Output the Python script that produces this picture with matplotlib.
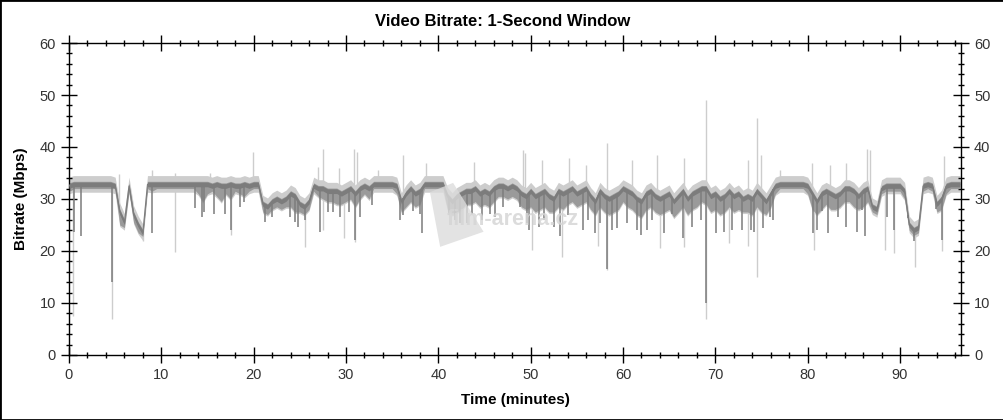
import numpy as np
import matplotlib
matplotlib.use('Agg')
import matplotlib.pyplot as plt
from matplotlib.patches import Rectangle, Polygon
from matplotlib.ticker import MultipleLocator

plt.rcParams['font.family'] = ['Liberation Sans', 'DejaVu Sans']

# Nivel medio del bitrate, cada 0.5 minutos (0 .. 96.5)
level_t = np.arange(0, 97, 0.5)
level = [
    32.5, 32.8, 32.8, 32.8, 32.8, 32.8, 32.8, 32.8, 32.8, 32.8,
    32.5, 27.5, 25.5, 32.5, 27.0, 25.0, 23.5, 32.8, 32.8, 32.8,
    32.8, 32.8, 32.8, 32.8, 32.8, 32.8, 32.8, 32.8, 32.8, 32.8,
    32.8, 32.5, 32.8, 32.5, 32.5, 32.8, 32.5, 32.5, 32.8, 32.5,
    32.8, 32.8, 29.0, 28.5, 29.5, 30.0, 29.5, 30.0, 31.0, 30.5,
    29.0, 28.5, 29.5, 32.5, 32.0, 32.0, 31.5, 31.5, 31.5, 31.0,
    31.5, 32.0, 31.0, 32.0, 32.5, 32.0, 32.8, 32.8, 32.8, 32.8,
    32.8, 32.5, 29.5, 31.0, 32.0, 31.0, 31.5, 32.8, 32.8, 32.8,
    32.8, 32.8, 30.5, 29.5, 30.5, 31.0, 31.5, 31.5, 32.0, 31.0,
    31.5, 31.0, 32.0, 32.5, 32.5, 32.0, 32.5, 32.0, 31.0, 30.5,
    31.5, 30.5, 31.0, 31.5, 30.5, 30.0, 31.5, 31.0, 31.5, 32.0,
    31.0, 31.5, 32.0, 30.5, 29.5, 31.5, 30.5, 30.0, 30.5, 31.0,
    32.0, 31.5, 31.0, 30.0, 29.5, 31.0, 31.5, 30.5, 30.0, 30.5,
    31.0, 29.5, 30.5, 31.5, 30.0, 31.0, 31.5, 32.0, 32.0, 30.5,
    31.0, 30.0, 30.5, 31.5, 30.5, 31.0, 30.0, 30.5, 30.0, 31.5,
    30.5, 29.5, 31.0, 32.5, 32.8, 32.8, 32.8, 32.8, 32.8, 32.8,
    32.5, 31.0, 29.5, 31.0, 31.5, 31.0, 30.5, 31.0, 32.0, 32.0,
    31.5, 30.5, 31.5, 32.0, 28.5, 28.0, 32.0, 32.5, 32.5, 32.5,
    32.5, 31.5, 25.0, 24.0, 24.5, 32.5, 32.8, 32.5, 29.0, 30.0,
    32.5, 32.8, 32.8, 32.8,
]

# Borde inferior de la masa oscura, cada 0.5 minutos
lower = [
    31.5, 32.0, 32.0, 32.0, 32.0, 32.0, 32.0, 32.0, 32.0, 32.0,
    32.0, 25.0, 24.5, 31.5, 25.5, 23.5, 22.8, 32.0, 31.5, 32.0,
    32.0, 32.0, 32.0, 32.0, 32.0, 32.0, 32.0, 32.0, 31.0, 29.5,
    31.0, 31.5, 30.5, 29.5, 31.0, 30.0, 31.5, 31.0, 30.5, 31.5,
    32.0, 32.0, 27.5, 27.0, 28.0, 28.5, 28.0, 28.5, 28.5, 27.5,
    27.5, 27.0, 28.0, 31.5, 30.5, 30.0, 29.5, 29.5, 29.0, 29.0,
    29.5, 30.0, 28.5, 30.0, 31.0, 30.0, 32.0, 32.0, 32.0, 32.0,
    32.0, 31.0, 27.5, 28.5, 29.5, 28.5, 29.0, 32.0, 32.0, 32.0,
    32.0, 32.0, 28.0, 27.0, 27.5, 28.0, 29.0, 29.0, 29.5, 28.5,
    29.0, 28.5, 29.5, 30.5, 30.5, 30.0, 30.5, 30.0, 28.5, 28.0,
    28.5, 27.5, 28.0, 28.5, 27.5, 27.5, 28.5, 28.0, 29.0, 29.5,
    28.5, 29.0, 29.5, 28.0, 27.0, 28.5, 27.5, 27.0, 27.5, 28.0,
    29.5, 28.5, 28.0, 27.0, 26.5, 28.0, 28.5, 27.5, 27.0, 27.5,
    28.0, 26.5, 27.5, 28.5, 27.0, 28.0, 28.5, 29.5, 29.0, 27.5,
    28.0, 27.0, 27.5, 28.5, 27.5, 28.0, 27.5, 27.5, 27.0, 28.5,
    27.5, 27.0, 28.5, 31.0, 32.0, 32.0, 32.0, 32.0, 32.0, 32.0,
    31.0, 28.0, 27.0, 28.0, 29.0, 28.0, 28.0, 28.5, 29.5, 29.5,
    28.5, 28.0, 28.5, 29.5, 27.5, 27.0, 31.0, 31.5, 31.5, 31.5,
    31.5, 30.0, 24.0, 23.0, 23.5, 31.5, 32.0, 31.5, 27.5, 28.0,
    31.0, 32.0, 32.0, 32.0,
]

# Caidas del bitrate (minuto, Mbps) - linea oscura
dip_t = [0.5, 1.3, 4.7, 8.95, 13.65, 14.4, 14.6, 15.7, 16.9, 17.6, 18.5, 19.0,
         21.2, 22.0, 23.9, 24.5, 24.8, 25.6, 27.2, 28.1, 28.6, 29.4, 30.3, 31.0,
         31.5, 32.8, 35.9, 36.2, 37.3, 38.0, 38.2, 41.2, 41.8, 42.4, 43.1, 43.6,
         44.7, 45.6, 46.1, 47.0, 48.9, 49.6, 49.8, 50.9, 51.5, 52.5, 53.2, 54.0,
         55.7, 56.2, 57.0, 57.5, 58.3, 58.8, 59.4, 60.4, 61.5, 62.0, 62.6, 63.1,
         64.4, 65.3, 66.5, 67.5, 68.4, 69.0, 70.1, 70.9, 71.8, 72.9, 73.9, 74.2,
         75.2, 75.9, 76.3, 80.6, 81.0, 81.6, 82.2, 83.3, 84.1, 85.3, 85.9, 86.2,
         87.4, 88.6, 89.3, 90.9, 91.5, 93.9, 94.5]
dip_v = [23.7, 22.8, 14.0, 23.4, 28.2, 26.6, 27.5, 27.2, 27.2, 24.0, 28.5, 29.5,
         25.5, 26.6, 26.6, 25.5, 24.7, 26.0, 23.7, 27.5, 27.5, 26.5, 27.5, 22.1,
         26.6, 28.8, 26.0, 27.0, 27.6, 27.2, 23.4, 27.0, 26.0, 25.3, 25.3, 27.2,
         26.0, 27.2, 26.6, 28.5, 28.5, 25.3, 24.0, 24.7, 26.0, 24.7, 22.8, 27.0,
         24.0, 26.0, 23.4, 25.3, 16.5, 24.0, 24.5, 25.3, 24.0, 23.0, 24.0, 26.0,
         23.4, 27.2, 22.5, 24.7, 26.0, 10.0, 23.4, 23.7, 24.0, 24.0, 24.0, 23.7,
         24.5, 26.6, 26.0, 23.4, 24.0, 27.6, 23.4, 26.6, 24.7, 23.7, 27.9, 22.8,
         27.6, 26.5, 24.0, 27.0, 22.0, 28.0, 22.1]

# Caidas finas (linea clara)
light_dip_t = [0.45, 4.7, 8.0, 11.5, 17.6, 25.6, 27.5, 29.8, 31.0, 50.1, 53.4,
               57.3, 58.3, 64.0, 66.6, 69.0, 71.5, 73.5, 74.5, 80.7, 88.4, 89.3,
               91.6, 94.5]
light_dip_v = [7.5, 7.0, 22.0, 19.9, 23.0, 20.8, 24.0, 22.5, 21.8, 20.2, 18.9,
               21.0, 16.4, 20.5, 20.8, 7.0, 21.5, 21.0, 15.0, 20.2, 20.2, 19.6,
               17.0, 20.0]

# Picos (linea clara)
peak_t = [5.4, 8.95, 11.5, 15.3, 19.9, 27.0, 27.5, 29.2, 30.9, 31.2, 33.5, 36.2,
          38.7, 43.9, 49.2, 49.4, 51.2, 54.1, 56.0, 58.3, 61.0, 63.7, 66.6, 69.0,
          73.5, 74.5, 75.0, 77.0, 80.5, 82.4, 84.2, 86.4, 86.8, 94.8]
peak_v = [34.8, 35.6, 35.0, 35.0, 39.1, 36.2, 39.7, 36.0, 39.7, 39.0, 35.5, 38.5,
          36.9, 37.2, 39.4, 38.8, 37.5, 37.8, 36.5, 40.7, 37.5, 38.4, 37.8, 49.0,
          37.5, 45.5, 38.5, 35.5, 36.9, 36.5, 36.9, 39.7, 39.4, 38.3]

dark = '#7c7c7c'
mid = '#9a9a9a'
light = '#cdcdcd'

fig = plt.figure(figsize=(10.04, 4.2), dpi=100)
ax = fig.add_axes([0.0687, 0.1548, 0.8884, 0.7428])

level = np.array(level)
lower = np.array(lower)

# banda clara
ax.fill_between(level_t, np.minimum(lower, level - 1.2) - 0.3, level + 1.7,
                color=light, lw=0, zorder=1)
ax.vlines(peak_t, np.interp(peak_t, level_t, level), peak_v, color=light, lw=1.0, zorder=1)
ax.vlines(light_dip_t, light_dip_v, np.interp(light_dip_t, level_t, level),
          color=light, lw=1.0, zorder=1)

# masa oscura y linea principal
ax.fill_between(level_t, lower, level + 0.6, color=mid, lw=0, zorder=2)
ax.fill_between(level_t, level - 0.45, level + 0.45, color=dark, lw=0, zorder=3)
ax.plot(level_t, level, color=dark, lw=0.8, zorder=3)
ax.vlines(dip_t, dip_v, np.interp(dip_t, level_t, level), color=dark, lw=1.1, zorder=3)

# marca de agua (encima de los datos, semitransparente)
ax.add_patch(Polygon([[39.1, 31.3], [41.6, 33.1], [44.9, 23.7], [40.2, 20.8]],
                     closed=True, color='#dcdcdc', alpha=0.8, lw=0, zorder=4))
ax.text(48.1, 26.0, 'film-arena.cz', fontsize=15.5, fontweight='bold',
        color='#d6d6d6', alpha=0.85, ha='center', va='center', zorder=4)

ax.set_xlim(0, 96.6)
ax.set_ylim(0, 60)
ax.xaxis.set_major_locator(MultipleLocator(10))
ax.xaxis.set_minor_locator(MultipleLocator(2))
ax.yaxis.set_major_locator(MultipleLocator(10))
ax.yaxis.set_minor_locator(MultipleLocator(2))
ax.tick_params(which='major', direction='inout', length=11, width=1,
               top=True, right=True, labelright=True, labelsize=10.5,
               labelcolor='#333333', pad=4)
ax.tick_params(which='minor', direction='inout', length=4, width=1,
               top=True, right=True)
for s in ax.spines.values():
    s.set_linewidth(1)

ax.set_title('Video Bitrate: 1-Second Window', fontsize=12, fontweight='bold',
             pad=12, x=0.4865)
ax.set_xlabel('Time (minutes)', fontsize=11, fontweight='bold', labelpad=8)
ax.set_ylabel('Bitrate (Mbps)', fontsize=11, fontweight='bold', labelpad=8)

fig.patches.append(Rectangle((0, 0), 1, 1, transform=fig.transFigure, fill=False,
                             edgecolor='black', lw=2))

fig.savefig('out.png', dpi=100)
